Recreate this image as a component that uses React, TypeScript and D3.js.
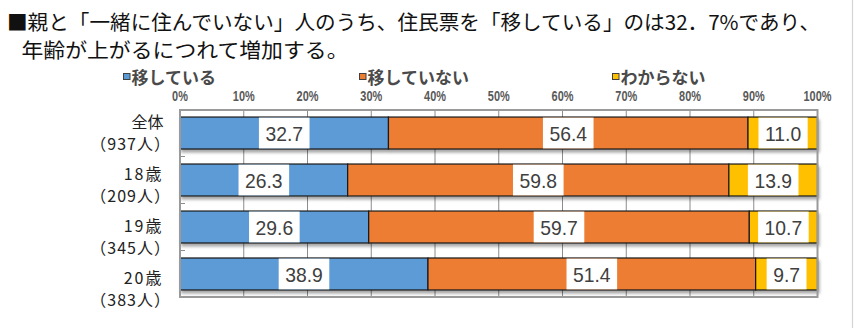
import React, { useEffect, useRef } from "react";
import * as d3 from "d3";

const titleLines = [
  "■親と「一緒に住んでいない」人のうち、住民票を「移している」のは32．7%であり、",
  "年齢が上がるにつれて増加する。",
];
const categories = ["全体", "18歳", "19歳", "20歳"];
const counts = ["（937人）", "（209人）", "（345人）", "（383人）"];
const seriesNames = ["移している", "移していない", "わからない"];
const moved = [32.7, 26.3, 29.6, 38.9];
const notMoved = [56.4, 59.8, 59.7, 51.4];
const unknown = [11.0, 13.9, 10.7, 9.7];
const colors = ["#5B9BD5", "#ED7D31", "#FFC000"];
const ticks = [0, 10, 20, 30, 40, 50, 60, 70, 80, 90, 100];

const W = 854;
const H = 328;
const plot = { left: 180, right: 817.5, top: 110, bottom: 297 };

export default function App() {
  const ref = useRef<SVGSVGElement>(null);

  useEffect(() => {
    const svg = d3.select(ref.current);
    svg.selectAll("*").remove();

    const defs = svg.append("defs");
    const f = defs
      .append("filter")
      .attr("id", "shadow")
      .attr("x", "-5%")
      .attr("y", "-20%")
      .attr("width", "115%")
      .attr("height", "160%");
    f.append("feDropShadow")
      .attr("dx", 1.5)
      .attr("dy", 3)
      .attr("stdDeviation", 1.5)
      .attr("flood-color", "#000")
      .attr("flood-opacity", 0.35);

    const x = d3.scaleLinear().domain([0, 100]).range([plot.left, plot.right]);
    const y = d3
      .scaleBand<string>()
      .domain(categories)
      .range([plot.top, plot.bottom])
      .paddingInner(0.32)
      .paddingOuter(0.15);

    // right page edge line
    svg
      .append("line")
      .attr("x1", W - 1.5)
      .attr("x2", W - 1.5)
      .attr("y1", 0)
      .attr("y2", H)
      .attr("stroke", "#d4d4d4")
      .attr("stroke-width", 1.2);

    // title
    const jp = "'Noto Sans CJK JP', 'Noto Sans', sans-serif";
    const titleX = [7, 21.5];
    const titleLen = [813, 327];
    svg
      .append("g")
      .selectAll("text")
      .data(titleLines)
      .join("text")
      .attr("x", (_d, i) => titleX[i])
      .attr("y", (_d, i) => 30 + i * 28)
      .attr("font-family", jp)
      .attr("font-size", 20.5)
      .attr("fill", "#111")
      .attr("textLength", (_d, i) => titleLen[i])
      .attr("lengthAdjust", "spacingAndGlyphs")
      .text((d) => d);

    // legend
    const lg = svg.append("g");
    let lx = 123;
    seriesNames.forEach((name, i) => {
      const g = lg.append("g").attr("transform", `translate(${lx},0)`);
      g.append("rect")
        .attr("x", 0.5)
        .attr("y", 73.5)
        .attr("width", 6.5)
        .attr("height", 6)
        .attr("fill", colors[i])
        .attr("stroke", "#404040")
        .attr("stroke-width", 1);
      const t = g
        .append("text")
        .attr("x", 8.5)
        .attr("y", 83.5)
        .attr("font-family", jp)
        .attr("font-size", 17)
        .attr("font-weight", "bold")
        .attr("fill", "#4a4a4a")
        .text(name);
      const w = (t.node() as SVGTextElement).getComputedTextLength();
      lx += 8.5 + w + 143;
    });

    // tick labels (condensed)
    const sans = "'Liberation Sans', Arial, sans-serif";
    svg
      .append("g")
      .selectAll("text")
      .data(ticks)
      .join("text")
      .attr("x", (d) => x(d))
      .attr("y", 101)
      .attr("text-anchor", "middle")
      .attr("font-family", sans)
      .attr("font-size", 14)
      .attr("font-weight", "bold")
      .attr("fill", "#595959")
      .text((d) => `${d}%`)
      .each(function () {
        const el = this as SVGTextElement;
        const w = el.getComputedTextLength();
        d3.select(el).attr("textLength", w * 0.78).attr("lengthAdjust", "spacingAndGlyphs");
      });

    // plot background + grid
    svg
      .append("rect")
      .attr("x", plot.left)
      .attr("y", plot.top)
      .attr("width", plot.right - plot.left)
      .attr("height", plot.bottom - plot.top)
      .attr("fill", "#fff");
    svg
      .append("g")
      .selectAll("line")
      .data(ticks.slice(1, -1))
      .join("line")
      .attr("x1", (d) => x(d))
      .attr("x2", (d) => x(d))
      .attr("y1", plot.top)
      .attr("y2", plot.bottom)
      .attr("stroke", "#8c8c8c")
      .attr("stroke-width", 1);

    // left axis tick marks at band boundaries
    const bounds = categories
      .slice(1)
      .map((c) => (y(c) as number) - (y.step() * y.paddingInner()) / 2);
    svg
      .append("g")
      .selectAll("line")
      .data(bounds)
      .join("line")
      .attr("x1", plot.left)
      .attr("x2", plot.left + 5)
      .attr("y1", (d) => d)
      .attr("y2", (d) => d)
      .attr("stroke", "#8c8c8c")
      .attr("stroke-width", 1);

    // stacked data
    const rows = categories.map((c, i) => ({
      cat: c,
      vals: [moved[i], notMoved[i], unknown[i]],
    }));
    const segs: { cat: string; s: number; x0: number; x1: number; v: number }[] = [];
    rows.forEach((r) => {
      let acc = 0;
      r.vals.forEach((v, s) => {
        segs.push({ cat: r.cat, s, x0: acc, x1: acc + v, v });
        acc += v;
      });
    });

    const bh = y.bandwidth();
    svg
      .append("g")
      .attr("filter", "url(#shadow)")
      .selectAll("rect")
      .data(segs)
      .join("rect")
      .attr("x", (d) => x(d.x0))
      .attr("y", (d) => y(d.cat) as number)
      .attr("width", (d) => Math.min(x(d.x1), plot.right) - x(d.x0))
      .attr("height", bh)
      .attr("fill", (d) => colors[d.s])
      .attr("stroke", "#1a1a1a")
      .attr("stroke-width", 1.2);

    // plot border
    svg
      .append("rect")
      .attr("x", plot.left)
      .attr("y", plot.top)
      .attr("width", plot.right - plot.left)
      .attr("height", plot.bottom - plot.top)
      .attr("fill", "none")
      .attr("stroke", "#9a9a9a")
      .attr("stroke-width", 2);

    // data labels with white boxes
    const lab = svg.append("g");
    segs.forEach((d) => {
      const cx = x((d.x0 + d.x1) / 2);
      const cy = (y(d.cat) as number) + bh / 2;
      const g = lab.append("g");
      const rect = g.append("rect").attr("fill", "#fff");
      const t = g
        .append("text")
        .attr("x", cx)
        .attr("y", cy)
        .attr("dy", "0.36em")
        .attr("text-anchor", "middle")
        .attr("font-family", sans)
        .attr("font-size", 21)
        .attr("fill", "#404040")
        .text(d3.format(".1f")(d.v));
      const w0 = (t.node() as SVGTextElement).getComputedTextLength();
      const w = w0 * 0.92;
      t.attr("textLength", w).attr("lengthAdjust", "spacingAndGlyphs");
      const bw = w + 13;
      rect
        .attr("x", cx - bw / 2)
        .attr("y", (y(d.cat) as number) + 0.6)
        .attr("width", bw)
        .attr("height", bh - 1.2);
    });

    // category labels
    const labelY = d3.scalePoint<string>().domain(categories).range([128, 283.5]);
    const cg = svg.append("g");
    categories.forEach((c, i) => {
      cg.append("text")
        .attr("x", 163.5)
        .attr("y", labelY(c) as number)
        .attr("text-anchor", "end")
        .attr("font-family", jp)
        .attr("font-size", 16)
        .attr("letter-spacing", c === "全体" ? 0 : 2)
        .attr("fill", "#222")
        .text(c);
      cg.append("text")
        .attr("x", 171)
        .attr("y", (labelY(c) as number) + 22)
        .attr("text-anchor", "end")
        .attr("font-family", jp)
        .attr("font-size", 16)
        .attr("letter-spacing", 1)
        .attr("fill", "#222")
        .text(counts[i]);
    });
  }, []);

  return (
    <svg
      ref={ref}
      width={W}
      height={H}
      style={{ position: "absolute", left: 0, top: 0, background: "#fff" }}
    />
  );
}
